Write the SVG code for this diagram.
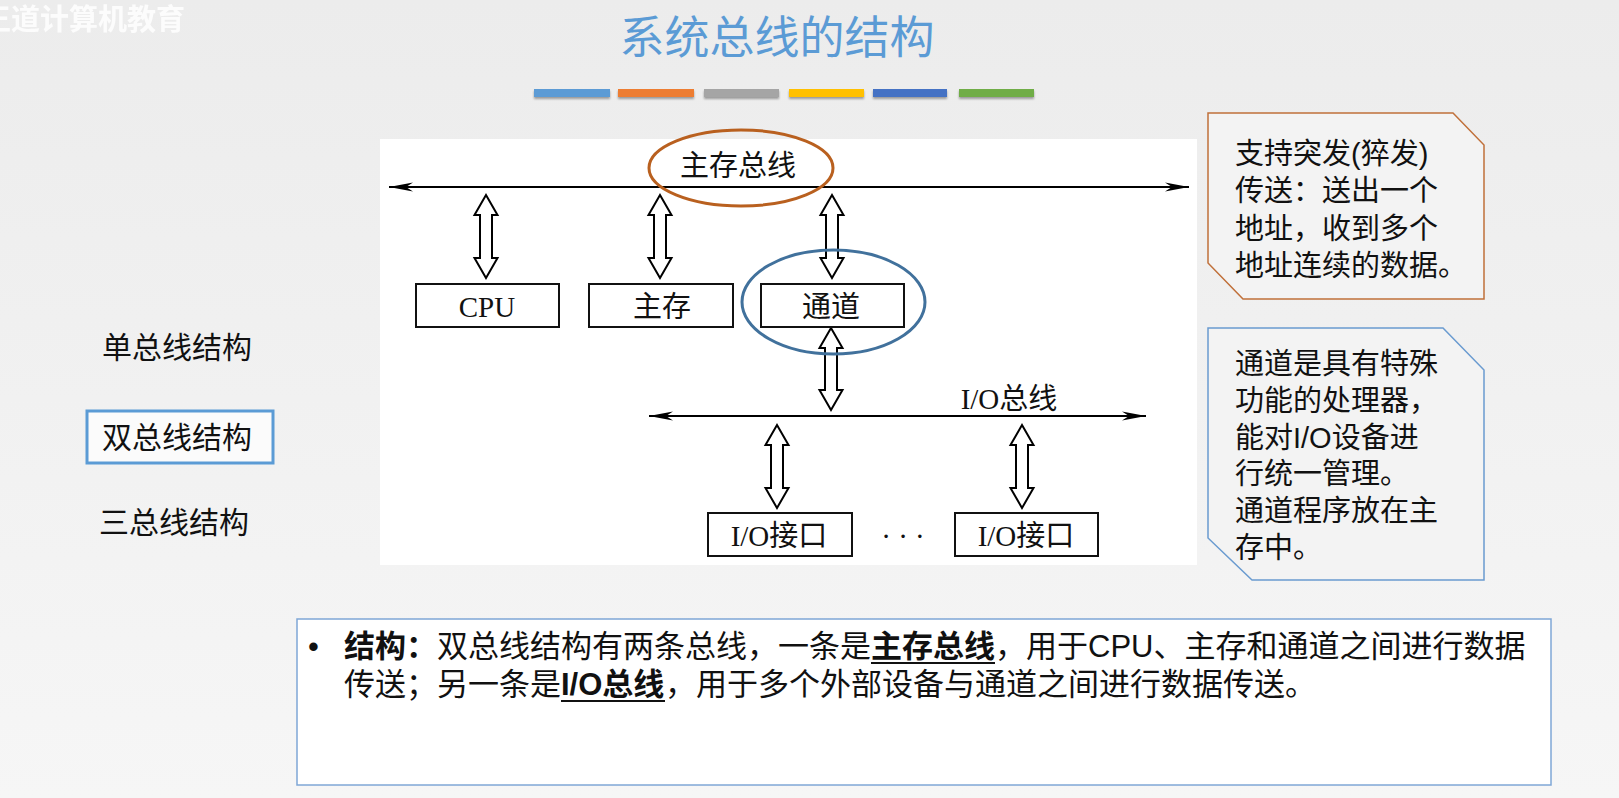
<svg xmlns="http://www.w3.org/2000/svg" width="1619" height="798" viewBox="0 0 1619 798">
<defs>
<linearGradient id="bg" x1="0" y1="0" x2="0" y2="1">
<stop offset="0" stop-color="#ececec"/>
<stop offset="1" stop-color="#f6f6f6"/>
</linearGradient>
<marker id="busHead" markerUnits="userSpaceOnUse" markerWidth="30" markerHeight="12" viewBox="-26 -6 30 12" refX="0" refY="0" orient="auto-start-reverse">
<path d="M0,0 L-24,-4.5 L-17,0 L-24,4.5 Z" fill="#000"/>
</marker>
<filter id="sh" x="-5%" y="-50%" width="110%" height="250%">
<feDropShadow dx="0" dy="2" stdDeviation="1.2" flood-color="#000" flood-opacity="0.35"/>
</filter>
</defs>
<style>
.serif{font-family:"Liberation Serif","Noto Sans CJK SC",serif;font-size:29px;fill:#111}
.sans{font-family:"Liberation Sans","Noto Sans CJK SC",sans-serif;fill:#111}
.box{fill:#fff;stroke:#111;stroke-width:2}
.bus{stroke:#000;stroke-width:2;fill:none}
.dbl{fill:#fff;stroke:#000;stroke-width:2;stroke-linejoin:miter}
.side{font-size:30px}
.call{font-size:29px}
.bot{font-size:31px}
.b{font-weight:bold}
.ul{stroke:#111;stroke-width:2}
</style>
<rect width="1619" height="798" fill="url(#bg)"/>
<text x="-18" y="30" font-family="Liberation Sans,Noto Sans CJK SC,sans-serif" font-size="29" font-weight="bold" fill="#fff" opacity="0.85">王道计算机教育</text>

<g id="title">
<text x="777" y="54" text-anchor="middle" font-family="Noto Sans CJK SC,sans-serif" font-size="45" fill="#5b9bd5">系统总线的结构</text>
<g filter="url(#sh)">
<rect x="534" y="89" width="76" height="8" fill="#5b9bd5"/>
<rect x="618" y="89" width="76" height="8" fill="#ed7d31"/>
<rect x="704" y="89" width="75" height="8" fill="#a5a5a5"/>
<rect x="789" y="89" width="75" height="8" fill="#ffc000"/>
<rect x="873" y="89" width="74" height="8" fill="#4472c4"/>
<rect x="959" y="89" width="75" height="8" fill="#70ad47"/>
</g>
</g>

<g id="menu">
<text class="sans side" x="102" y="358">单总线结构</text>
<rect x="87" y="411" width="186" height="52" fill="#fbfbfb" stroke="#5b9bd5" stroke-width="3"/>
<text class="sans side" x="102" y="448">双总线结构</text>
<text class="sans side" x="99" y="533">三总线结构</text>
</g>

<rect id="diagram-bg" x="380" y="139" width="817" height="426" fill="#fff"/>

<g id="connectors">
<line class="bus" x1="389" y1="187" x2="1189" y2="187" marker-start="url(#busHead)" marker-end="url(#busHead)"/>
<line class="bus" x1="649" y1="416" x2="1146" y2="416" marker-start="url(#busHead)" marker-end="url(#busHead)"/>
<path class="dbl" d="M486,195 L497.5,215 L492,215 L492,258 L497.5,258 L486,278 L474.5,258 L480,258 L480,215 L474.5,215 Z"/>
<path class="dbl" d="M660,195 L671.5,215 L666,215 L666,258 L671.5,258 L660,278 L648.5,258 L654,258 L654,215 L648.5,215 Z"/>
<path class="dbl" d="M832,195 L843.5,215 L838,215 L838,258 L843.5,258 L832,278 L820.5,258 L826,258 L826,215 L820.5,215 Z"/>
<path class="dbl" d="M831,328 L842.5,348 L837,348 L837,390 L842.5,390 L831,410 L819.5,390 L825,390 L825,348 L819.5,348 Z"/>
<path class="dbl" d="M777,425 L788.5,445 L783,445 L783,488 L788.5,488 L777,508 L765.5,488 L771,488 L771,445 L765.5,445 Z"/>
<path class="dbl" d="M1022,425 L1033.5,445 L1028,445 L1028,488 L1033.5,488 L1022,508 L1010.5,488 L1016,488 L1016,445 L1010.5,445 Z"/>
</g>

<g id="label-main-bus"><text class="serif" x="738" y="176" text-anchor="middle">主存总线</text></g>
<g id="label-io-bus"><text class="serif" x="1009" y="409" text-anchor="middle">I/O总线</text></g>

<g id="node-cpu"><rect class="box" x="416" y="284" width="143" height="43"/><text class="serif" x="487" y="317" text-anchor="middle">CPU</text></g>
<g id="node-mem"><rect class="box" x="589" y="284" width="144" height="43"/><text class="serif" x="662" y="317" text-anchor="middle">主存</text></g>
<g id="node-channel"><rect class="box" x="761" y="284" width="143" height="43"/><text class="serif" x="831" y="317" text-anchor="middle">通道</text></g>
<g id="node-io1"><rect class="box" x="708" y="513" width="144" height="43"/><text class="serif" x="779" y="546" text-anchor="middle">I/O接口</text></g>
<g id="node-dots"><text class="serif" x="903" y="546" text-anchor="middle">· · ·</text></g>
<g id="node-io2"><rect class="box" x="955" y="513" width="143" height="43"/><text class="serif" x="1026" y="546" text-anchor="middle">I/O接口</text></g>

<g id="highlights" fill="none" stroke-width="3">
<ellipse cx="741" cy="168" rx="92" ry="38" stroke="#b9601f"/>
<ellipse cx="833.5" cy="302" rx="91.5" ry="52" stroke="#41719c"/>
</g>

<g id="callout-burst">
<path d="M1208,113 L1453,113 L1484,145 L1484,299 L1243,299 L1208,263 Z" fill="#f3f3f3" stroke="#c0703a" stroke-width="1.5"/>
<text class="sans call" x="1235" y="164">支持突发(猝发)</text>
<text class="sans call" x="1235" y="201">传送：送出一个</text>
<text class="sans call" x="1235" y="239">地址，收到多个</text>
<text class="sans call" x="1235" y="276">地址连续的数据。</text>
</g>

<g id="callout-channel">
<path d="M1208,328 L1443,328 L1484,370 L1484,580 L1252,580 L1208,538 Z" fill="#f3f3f3" stroke="#6a9bd0" stroke-width="1.5"/>
<text class="sans call" x="1235" y="374">通道是具有特殊</text>
<text class="sans call" x="1235" y="411">功能的处理器，</text>
<text class="sans call" x="1235" y="448">能对I/O设备进</text>
<text class="sans call" x="1235" y="484">行统一管理。</text>
<text class="sans call" x="1235" y="521">通道程序放在主</text>
<text class="sans call" x="1235" y="558">存中。</text>
</g>

<g id="summary">
<rect x="297" y="619" width="1254" height="166" fill="#fff" stroke="#7fa7d6" stroke-width="1.5"/>
<text class="sans bot" x="308" y="657">•</text>
<text class="sans bot b" x="344" y="657">结构：</text>
<text class="sans bot" x="437" y="657">双总线结构有两条总线，一条是</text>
<text class="sans bot b" x="871" y="657">主存总线</text>
<line class="ul" x1="871" y1="663" x2="995" y2="663"/>
<text class="sans bot" x="995" y="657">，用于CPU、主存和通道之间进行数据</text>
<text class="sans bot" x="344" y="695">传送；另一条是</text>
<text class="sans bot b" x="561" y="695">I/O总线</text>
<line class="ul" x1="561" y1="701" x2="665" y2="701"/>
<text class="sans bot" x="665" y="695">，用于多个外部设备与通道之间进行数据传送。</text>
</g>
</svg>
